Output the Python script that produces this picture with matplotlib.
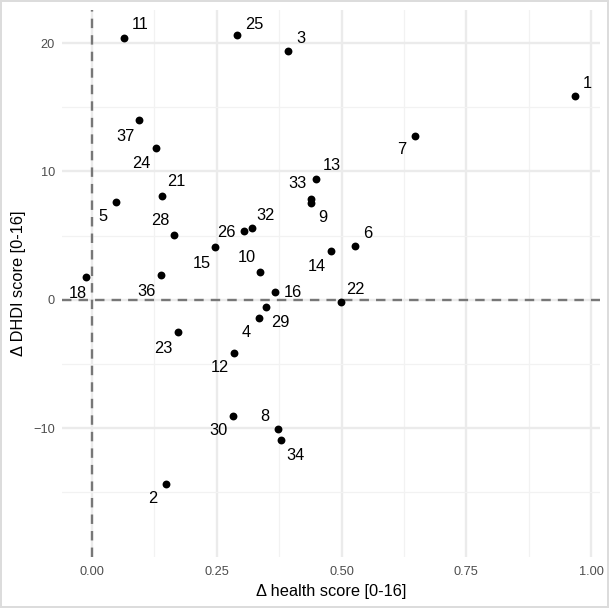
import matplotlib
matplotlib.use("Agg")
import matplotlib.pyplot as plt
from matplotlib.ticker import MultipleLocator, FixedLocator

plt.rcParams["font.family"] = ["Liberation Sans", "DejaVu Sans"]

# data
ids = ["1", "2", "3", "4", "5", "6", "7", "8", "9", "10", "11", "12", "13", "14", "15", "16",
       "18", "21", "22", "23", "24", "25", "26", "28", "29", "30", "32", "33", "34", "36", "37"]
health = [0.968, 0.148, 0.393, 0.335, 0.048, 0.528, 0.647, 0.373, 0.439, 0.337, 0.065, 0.284,
          0.449, 0.479, 0.247, 0.367, -0.012, 0.141, 0.498, 0.172, 0.129, 0.290, 0.305, 0.164,
          0.349, 0.282, 0.320, 0.439, 0.379, 0.139, 0.095]
dhdi = [15.9, -14.32, 19.40, -1.40, 7.60, 4.20, 12.79, -10.04, 7.52, 2.20, 20.41, -4.12,
        9.39, 3.81, 4.10, 0.60, 1.81, 8.09, -0.18, -2.52, 11.80, 20.62, 5.40, 5.08,
        -0.52, -9.03, 5.58, 7.86, -10.92, 1.92, 14.0]

# label offsets in pixels (dx right, dy down) mimicking ggrepel placement
offsets = {
    "1": (12, -12), "2": (-13, 15), "3": (13, -12), "4": (-13, 15), "5": (-13, 14),
    "6": (12, -12), "7": (-13, 14), "8": (-13, -12), "9": (12, 14), "10": (-13, -14),
    "11": (16, -13), "12": (-14, 15), "13": (16, -14), "14": (-14, 16), "15": (-13, 16),
    "16": (18, 0), "18": (-8, 17), "21": (14, -14), "22": (15, -13), "23": (-15, 16),
    "24": (-15, 15), "25": (18, -11), "26": (-18, 2), "28": (-14, -14), "29": (14, 16),
    "30": (-14, 15), "32": (14, -13), "33": (-14, -15), "34": (14, 15), "36": (-15, 16),
    "37": (-14, 16),
}

W, H = 609, 608
fig = plt.figure(figsize=(W / 100, H / 100), dpi=100)
fig.patch.set_facecolor("white")
fig.patch.set_edgecolor("#dcdcdc")
fig.patch.set_linewidth(1.5)
ax = fig.add_axes([61.7 / W, (H - 556.7) / H, (600 - 61.7) / W, (556.7 - 10) / H])

ax.set_xlim(-0.0607, 1.018)
ax.set_ylim(-20.0, 22.57)

ax.xaxis.set_major_locator(MultipleLocator(0.25))
ax.xaxis.set_minor_locator(FixedLocator([0.125, 0.375, 0.625, 0.875]))
ax.yaxis.set_major_locator(FixedLocator([-10, 0, 10, 20]))
ax.yaxis.set_minor_locator(FixedLocator([-15, -5, 5, 15]))
ax.grid(which="major", color="#ebebeb", linewidth=1.7)
ax.grid(which="minor", color="#f2f2f2", linewidth=0.9)
ax.set_axisbelow(True)
for s in ax.spines.values():
    s.set_visible(False)
ax.tick_params(which="both", length=0, colors="#4d4d4d", labelsize=9.2)
ax.tick_params(axis="x", pad=7)
ax.tick_params(axis="y", pad=5)
ax.set_xticks([0, 0.25, 0.5, 0.75, 1.0])
ax.set_xticklabels(["0.00", "0.25", "0.50", "0.75", "1.00"])

ax.axvline(0, color="#777777", linestyle=(0, (4, 3)), linewidth=1.7, zorder=1)
ax.axhline(0, color="#777777", linestyle=(0, (4, 3)), linewidth=1.7, zorder=1)

ax.scatter(health, dhdi, s=32, color="black", zorder=3, linewidths=0)
for lab, x, y in zip(ids, health, dhdi):
    dx, dy = offsets[lab]
    ax.annotate(lab, (x, y), xytext=(dx, -dy), textcoords="offset pixels",
                ha="center", va="center", fontsize=11.8, color="black", zorder=4)

ax.set_xlabel("Δ health score [0-16]", fontsize=11.8, labelpad=4)
ax.set_ylabel("Δ DHDI score [0-16]", fontsize=11.8, labelpad=5)

fig.savefig("out.png", dpi=100, facecolor=fig.get_facecolor(), edgecolor=fig.get_edgecolor())
